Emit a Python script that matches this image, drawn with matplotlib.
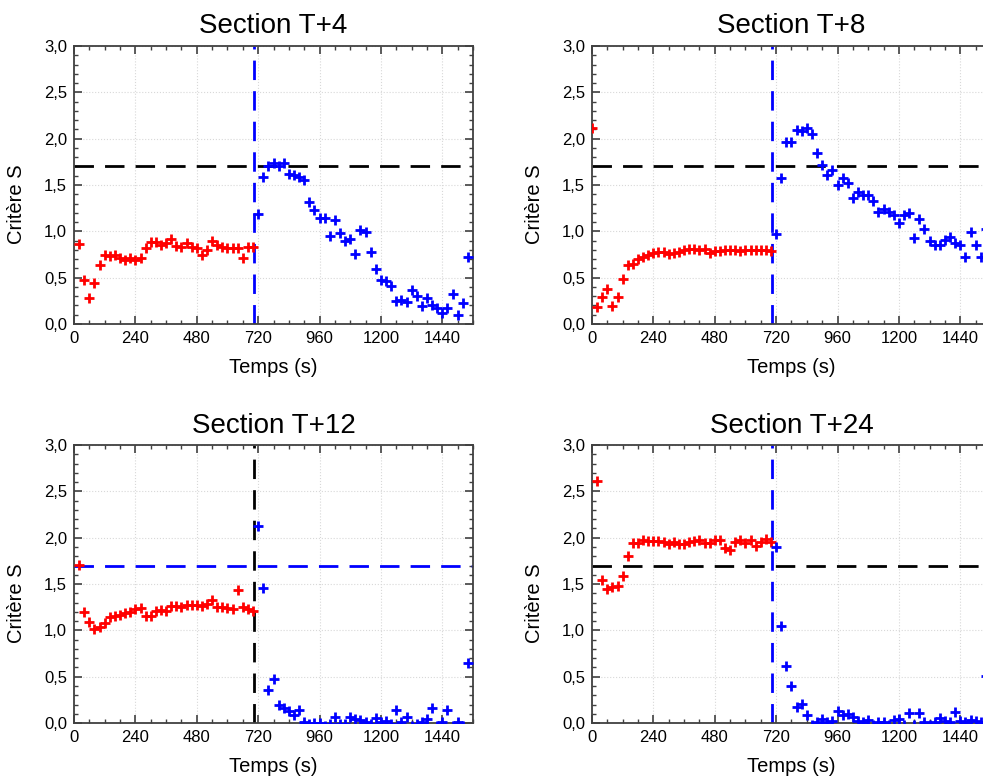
import matplotlib.pyplot as plt
from matplotlib.ticker import MultipleLocator

plt.rcParams['font.family'] = ['Liberation Sans', 'DejaVu Sans']

# sampling times (s): red = before the switch, blue = after
temps_avant = list(range(20, 720, 20))
temps_apres = list(range(720, 1560, 20))

s4_avant = [0.86, 0.48, 0.28, 0.44, 0.64, 0.74, 0.73, 0.74, 0.71, 0.69,
            0.71, 0.69, 0.71, 0.82, 0.88, 0.88, 0.85, 0.87, 0.92, 0.84,
            0.83, 0.87, 0.83, 0.82, 0.74, 0.80, 0.90, 0.85, 0.83, 0.82,
            0.82, 0.82, 0.71, 0.83, 0.83]
s4_apres = [1.19, 1.59, 1.70, 1.74, 1.70, 1.74, 1.62, 1.61, 1.59, 1.55,
            1.32, 1.23, 1.14, 1.14, 0.95, 1.12, 0.98, 0.90, 0.92, 0.76,
            1.01, 0.99, 0.78, 0.59, 0.47, 0.46, 0.41, 0.25, 0.26, 0.24,
            0.37, 0.30, 0.19, 0.28, 0.20, 0.17, 0.12, 0.17, 0.32, 0.10,
            0.23, 0.72]

s8_t0 = 2.11
s8_avant = [0.18, 0.29, 0.38, 0.19, 0.29, 0.49, 0.64, 0.65, 0.70, 0.72,
            0.74, 0.77, 0.78, 0.78, 0.76, 0.77, 0.78, 0.80, 0.81, 0.81,
            0.80, 0.81, 0.77, 0.79, 0.79, 0.80, 0.80, 0.80, 0.79, 0.80,
            0.80, 0.80, 0.80, 0.80, 0.79]
s8_apres = [0.97, 1.57, 1.96, 1.96, 2.09, 2.08, 2.11, 2.05, 1.85, 1.72,
            1.61, 1.66, 1.50, 1.58, 1.52, 1.36, 1.42, 1.39, 1.39, 1.33,
            1.21, 1.24, 1.21, 1.18, 1.09, 1.18, 1.20, 0.93, 1.13, 1.03,
            0.90, 0.85, 0.85, 0.91, 0.94, 0.87, 0.85, 0.72, 0.99, 0.85,
            0.72, 1.02]

s12_avant = [1.71, 1.20, 1.09, 1.02, 1.04, 1.08, 1.14, 1.16, 1.17, 1.19,
             1.20, 1.23, 1.24, 1.16, 1.16, 1.21, 1.22, 1.21, 1.26, 1.26,
             1.25, 1.27, 1.27, 1.27, 1.26, 1.28, 1.33, 1.25, 1.25, 1.24,
             1.23, 1.44, 1.25, 1.23, 1.21]
s12_apres = [2.13, 1.46, 0.36, 0.48, 0.19, 0.16, 0.13, 0.09, 0.14, 0.01,
             -0.01, 0.00, 0.00, -0.03, -0.01, 0.06, -0.01, -0.01, 0.07, 0.04,
             0.03, 0.01, -0.01, 0.05, 0.01, 0.02, -0.01, 0.14, 0.01, 0.07,
             -0.03, -0.01, 0.01, 0.04, 0.16, -0.03, 0.01, 0.14, -0.03, 0.01,
             -0.03, 0.65]

s24_avant = [2.61, 1.54, 1.45, 1.47, 1.48, 1.59, 1.80, 1.94, 1.94, 1.98,
             1.96, 1.96, 1.96, 1.95, 1.93, 1.95, 1.93, 1.93, 1.95, 1.96,
             1.97, 1.94, 1.94, 1.97, 1.98, 1.89, 1.87, 1.95, 1.97, 1.94,
             1.97, 1.91, 1.95, 1.99, 1.95]
s24_apres = [1.90, 1.05, 0.62, 0.40, 0.17, 0.21, 0.09, -0.02, 0.01, 0.04,
             0.01, 0.02, 0.13, 0.09, 0.10, 0.07, 0.02, 0.01, 0.03, -0.02,
             0.01, 0.01, -0.02, 0.03, 0.04, -0.02, 0.11, -0.02, 0.11, 0.01,
             -0.02, 0.01, 0.05, 0.02, 0.01, 0.12, 0.02, 0.01, 0.03, 0.02,
             0.01, 0.51]

seuil = 1.7
t_bascule = 705
x_ticks = [0, 240, 480, 720, 960, 1200, 1440]
y_ticks = [0.0, 0.5, 1.0, 1.5, 2.0, 2.5, 3.0]
y_labels = ['0,0', '0,5', '1,0', '1,5', '2,0', '2,5', '3,0']

panels = [
    {"title": "Section T+4", "pos": [0.0753, 0.5857, 0.4059, 0.3555],
     "tr": temps_avant, "r": s4_avant, "b": s4_apres, "hcol": "black", "vcol": "blue"},
    {"title": "Section T+8", "pos": [0.6022, 0.5857, 0.4059, 0.3555],
     "tr": [0] + temps_avant, "r": [s8_t0] + s8_avant, "b": s8_apres, "hcol": "black", "vcol": "blue"},
    {"title": "Section T+12", "pos": [0.0753, 0.0754, 0.4059, 0.3555],
     "tr": temps_avant, "r": s12_avant, "b": s12_apres, "hcol": "blue", "vcol": "black"},
    {"title": "Section T+24", "pos": [0.6022, 0.0754, 0.4059, 0.3555],
     "tr": temps_avant, "r": s24_avant, "b": s24_apres, "hcol": "black", "vcol": "blue"},
]

fig = plt.figure(figsize=(9.83, 7.82), dpi=100)

for p in panels:
    ax = fig.add_axes(p["pos"])
    ax.axhline(seuil, color=p["hcol"], lw=2, dashes=(7, 4), zorder=2)
    ax.axvline(t_bascule, color=p["vcol"], lw=2, dashes=(7, 4), zorder=2)
    ax.plot(p["tr"], p["r"], ls='none', marker='+', ms=7.5, mew=2, color='#ff0000', zorder=3)
    ax.plot(temps_apres, p["b"], ls='none', marker='+', ms=7.5, mew=2, color='#0000ff', zorder=3)

    ax.set_xlim(0, 1560)
    ax.set_ylim(0, 3)
    ax.set_xticks(x_ticks)
    ax.set_yticks(y_ticks)
    ax.set_yticklabels(y_labels)
    ax.xaxis.set_minor_locator(MultipleLocator(60))
    ax.yaxis.set_minor_locator(MultipleLocator(0.1))
    ax.tick_params(which='both', direction='in', top=True, right=True,
                   colors='#404040', labelcolor='black', labelsize=12)
    ax.tick_params(which='major', length=6, width=1.2, pad=5)
    ax.tick_params(which='minor', length=3, width=1)
    for s in ax.spines.values():
        s.set_color('#404040')
        s.set_linewidth(1.3)
    ax.grid(which='major', color='#d8d8d8', ls=':', lw=0.8)
    ax.set_axisbelow(True)

    ax.set_title(p["title"], fontsize=20, pad=9)
    ax.set_xlabel('Temps (s)', fontsize=14.5, labelpad=9)
    ax.set_ylabel('Critère S', fontsize=14.5)
    ax.yaxis.set_label_coords(-0.12, 0.43)

fig.savefig('out.png', dpi=100)
